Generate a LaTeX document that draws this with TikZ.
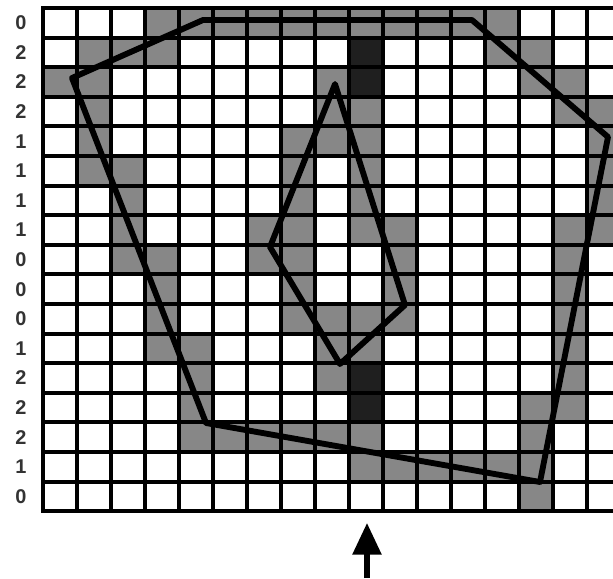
\documentclass[tikz,border=0pt]{standalone}
\usepackage{fontspec}
\setmainfont{Liberation Sans}
\usetikzlibrary{arrows.meta}
\tikzset{
  cellgray/.style={fill=black!47},
  celldark/.style={fill=black!88},
  gridline/.style={line width=3.4pt, black},
  polyline/.style={line width=5pt, black, line join=round},
  rowlabel/.style={font=\bfseries\fontsize{17}{17}\selectfont, inner sep=0pt, text=black!80},
}
\begin{document}
\begin{tikzpicture}[x=0.03cm,y=-0.03cm]
\useasboundingbox (0,0) rectangle (613,578);
\fill[white] (0,0) rectangle (613,578);
\begin{scope}
\clip (0,0) rectangle (613,578);
% gray cells
\foreach \r/\cs in {0/{3,4,5,6,7,8,9,10,11,12,13},
                    1/{1,2,3,13,14},
                    2/{0,1,8,14,15},
                    3/{1,8,9,15,16},
                    4/{1,7,8,9,16},
                    5/{1,2,7,9,16},
                    6/{2,7,9,16},
                    7/{2,6,7,9,10,15,16},
                    8/{2,3,6,7,10,15},
                    9/{3,7,10,15},
                    10/{3,7,8,9,10,15},
                    11/{3,4,8,9,15},
                    12/{4,8,15},
                    13/{4,14,15},
                    14/{4,5,6,7,8,9,14},
                    15/{9,10,11,12,13,14},
                    16/{14}}{
  \foreach \c in \cs {
    \fill[cellgray] ({43+34*\c},{8+29.6*\r}) rectangle ++(34,29.6);
  }
}
% dark cells
\foreach \r in {1,2,12,13}{
  \fill[celldark] ({43+34*9},{8+29.6*\r}) rectangle ++(34,29.6);
}
% grid
\foreach \c in {0,...,16}{
  \draw[gridline] ({43+34*\c},8) -- ({43+34*\c},511.2);
}
\foreach \r in {0,...,17}{
  \draw[gridline] (41.3,{8+29.6*\r}) -- (615,{8+29.6*\r});
}
% outer polygon
\coordinate (o1) at (72,78);
\coordinate (o2) at (203,20);
\coordinate (o3) at (472,20);
\coordinate (o4) at (608,137);
\coordinate (o5) at (540,482);
\coordinate (o6) at (206,423);
\draw[polyline] (o1) -- (o2) -- (o3) -- (o4) -- (o5) -- (o6) -- cycle;
% inner kite
\coordinate (k1) at (335,84);
\coordinate (k2) at (270,247);
\coordinate (k3) at (340,364);
\coordinate (k4) at (405,305);
\draw[polyline] (k1) -- (k2) -- (k3) -- (k4) -- cycle;
\end{scope}
% row labels
\foreach \lab [count=\i from 0] in {0,2,2,2,1,1,1,1,0,0,0,1,2,2,2,1,0}{
  \node[rowlabel] (lab\i) at (21,{8+29.6*(\i+0.5)}) {\lab};
}
% arrow
\coordinate (arrowtail) at (367,578);
\coordinate (arrowtip) at (367,523);
\draw[line width=4.5pt, -{Triangle[length=27pt,width=24pt]}] (arrowtail) -- (arrowtip);
\end{tikzpicture}
\end{document}
